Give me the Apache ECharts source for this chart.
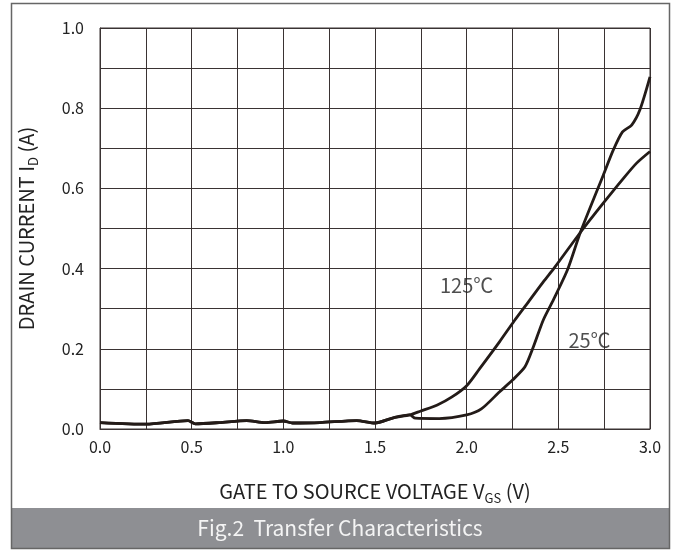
<!DOCTYPE html>
<html>
<head>
<meta charset="utf-8">
<script src="https://cdn.jsdelivr.net/npm/echarts@6/dist/echarts.min.js"></script>
<style>
  html, body { margin: 0; padding: 0; background: #fff; }
  #chart { width: 677px; height: 551px; }
</style>
</head>
<body>
<div id="chart"></div>
<script>
  // shared leakage part (both curves overlap here)
  const lowVgs = [0, 0.25, 0.48, 0.52, 0.65, 0.8, 0.9, 1.0, 1.05, 1.2, 1.4, 1.5, 1.6, 1.69];
  const lowId = [0.016, 0.012, 0.021, 0.013, 0.016, 0.021, 0.016, 0.02, 0.015, 0.016, 0.021, 0.015, 0.028, 0.035];

  const vgs25 = [1.72, 1.85, 2.0, 2.08, 2.18, 2.25, 2.318, 2.364, 2.418, 2.473, 2.55, 2.62, 2.745, 2.8, 2.85, 2.9, 2.945, 3.0];
  const id25 = [0.027, 0.026, 0.035, 0.05, 0.093, 0.122, 0.155, 0.205, 0.272, 0.322, 0.397, 0.49, 0.633, 0.696, 0.741, 0.758, 0.796, 0.878];

  const vgs125 = [1.75, 1.84, 1.92, 2.0, 2.07, 2.18, 2.26, 2.345, 2.42, 2.48, 2.62, 2.745, 2.855, 2.927, 3.0];
  const id125 = [0.045, 0.06, 0.08, 0.108, 0.15, 0.218, 0.27, 0.322, 0.368, 0.403, 0.49, 0.563, 0.625, 0.663, 0.692];

  const curveNames = ['125℃', '25℃'];
  const labelVgs = [2.0, 2.67];
  const labelId = [0.359, 0.222];

  const xTicks = [0, 0.5, 1.0, 1.5, 2.0, 2.5, 3.0];
  const yTicks = [0, 0.2, 0.4, 0.6, 0.8, 1.0];

  function pairs(xs, ys) {
    return xs.map((x, i) => [x, ys[i]]);
  }

  const font = '"Noto Sans CJK SC", "Noto Sans", sans-serif';
  const gridColor = '#3a3333';
  const curveColor = '#231b18';

  const nameRich = {
    a: { fontSize: 20, lineHeight: 28, color: '#222', fontFamily: font },
    s: { fontSize: 13, lineHeight: 10, verticalAlign: 'bottom', color: '#222', fontFamily: font }
  };

  let myChart = echarts.init(document.getElementById('chart'));
  myChart.setOption({
    animation: false,
    textStyle: { fontFamily: font },
    grid: {
      left: 100,
      right: 27,
      top: 28,
      bottom: 122,
      show: true,
      borderColor: gridColor,
      borderWidth: 1
    },
    xAxis: {
      type: 'value',
      min: 0,
      max: 3,
      interval: 0.5,
      axisLine: { show: true, lineStyle: { color: gridColor } },
      axisTick: { show: false },
      axisLabel: {
        margin: 10,
        fontSize: 16,
        color: '#222',
        fontFamily: font,
        formatter: v => xTicks.includes(+v.toFixed(2)) ? v.toFixed(1) : ''
      },
      splitLine: { show: true, lineStyle: { color: gridColor, width: 1 } },
      minorTick: { show: false, splitNumber: 2 },
      minorSplitLine: { show: true, lineStyle: { color: gridColor, width: 1 } },
      name: '{a|GATE TO SOURCE VOLTAGE V}{s|GS}{a| (V)}',
      nameLocation: 'middle',
      nameGap: 48,
      nameTextStyle: { rich: nameRich }
    },
    yAxis: {
      type: 'value',
      min: 0,
      max: 1,
      interval: 0.2,
      axisLine: { show: true, lineStyle: { color: gridColor } },
      axisTick: { show: false },
      axisLabel: {
        margin: 16,
        fontSize: 16,
        color: '#222',
        fontFamily: font,
        formatter: v => yTicks.includes(+v.toFixed(2)) ? v.toFixed(1) : ''
      },
      splitLine: { show: true, lineStyle: { color: gridColor, width: 1 } },
      minorTick: { show: false, splitNumber: 2 },
      minorSplitLine: { show: true, lineStyle: { color: gridColor, width: 1 } },
      name: '{a|DRAIN CURRENT I}{s|D}{a| (A)}',
      nameLocation: 'middle',
      nameGap: 60,
      nameTextStyle: { rich: nameRich }
    },
    series: [
      {
        name: curveNames[0],
        type: 'line',
        data: pairs(lowVgs.concat(vgs125), lowId.concat(id125)),
        smooth: 0.25,
        showSymbol: false,
        lineStyle: { color: curveColor, width: 2.8 }
      },
      {
        name: curveNames[1],
        type: 'line',
        data: pairs(lowVgs.concat(vgs25), lowId.concat(id25)),
        smooth: 0.25,
        showSymbol: false,
        lineStyle: { color: curveColor, width: 2.8 }
      },
      {
        type: 'scatter',
        symbolSize: 0,
        data: curveNames.map((n, i) => ({ name: n, value: [labelVgs[i], labelId[i]] })),
        label: {
          show: true,
          position: 'inside',
          formatter: '{b}',
          fontSize: 20,
          color: '#222',
          fontFamily: font
        },
        z: 5
      }
    ],
    graphic: [
      {
        type: 'rect',
        shape: { x: 12, y: 508, width: 657, height: 40 },
        style: { fill: '#8e8f93' },
        silent: true
      },
      {
        type: 'text',
        x: 340,
        y: 528,
        style: {
          text: 'Fig.2  Transfer Characteristics',
          fill: '#f4f4f4',
          font: '21px ' + font,
          align: 'center',
          verticalAlign: 'middle'
        }
      },
      {
        type: 'rect',
        shape: { x: 11.5, y: 3.5, width: 658, height: 545 },
        style: { fill: 'none', stroke: '#666', lineWidth: 1.5 },
        silent: true
      }
    ]
  });
</script>
</body>
</html>
